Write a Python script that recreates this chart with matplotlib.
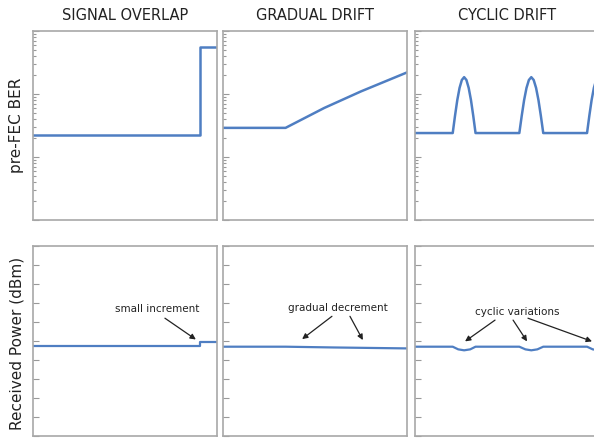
import numpy as np
import matplotlib
matplotlib.use("Agg")
import matplotlib.pyplot as plt
from matplotlib.ticker import LogLocator, NullFormatter, MultipleLocator

titles = ["SIGNAL OVERLAP", "GRADUAL DRIFT", "CYCLIC DRIFT"]
ylabels = ["pre-FEC BER", "Received Power (dBm)"]

# pre-FEC BER traces (x is fraction of the time window)
ber_overlap_x = [0.0, 0.905, 0.905, 1.0]
ber_overlap_y = [2.2e-4, 2.2e-4, 5.6e-3, 5.6e-3]

ber_gradual_x = [0.0, 0.34, 0.55, 0.75, 1.0]
ber_gradual_y = [2.9e-4, 2.9e-4, 6.0e-4, 1.1e-3, 2.2e-3]

ber_cyclic_x = [0.0, 0.205, 0.2174, 0.2298, 0.2422, 0.2546, 0.267, 0.2794,
                0.2918, 0.3042, 0.3166, 0.329,
                0.567, 0.580, 0.593, 0.606, 0.619, 0.632, 0.645,
                0.658, 0.671, 0.684, 0.697,
                0.935, 0.9474, 0.9598, 0.9722, 0.9846, 0.997, 1.0]
ber_cyclic_y = [2.4e-4, 2.4e-4, 4.5e-4, 8.0e-4, 1.25e-3, 1.67e-3, 1.85e-3, 1.67e-3,
                1.25e-3, 8.0e-4, 4.5e-4, 2.4e-4,
                2.4e-4, 4.5e-4, 8.0e-4, 1.25e-3, 1.67e-3, 1.85e-3, 1.67e-3,
                1.25e-3, 8.0e-4, 4.5e-4, 2.4e-4,
                2.4e-4, 4.5e-4, 8.0e-4, 1.25e-3, 1.67e-3, 1.85e-3, 1.84e-3]

# received power traces
pow_overlap_x = [0.0, 0.905, 0.905, 1.0]
pow_overlap_y = [4.74, 4.74, 4.95, 4.95]

pow_gradual_x = [0.0, 0.34, 0.6, 1.0]
pow_gradual_y = [4.70, 4.70, 4.66, 4.61]

pow_cyclic_x = [0.0, 0.205, 0.235, 0.267, 0.30, 0.329,
                0.567, 0.60, 0.632, 0.665, 0.697, 0.935, 0.966, 1.0]
pow_cyclic_y = [4.70, 4.70, 4.56, 4.51, 4.56, 4.70,
                4.70, 4.56, 4.51, 4.56, 4.70, 4.70, 4.56, 4.51]

notes = [
    (0, "small increment", (0.674, 6.75), [((0.717, 6.2), (0.885, 5.08))]),
    (1, "gradual decrement", (0.625, 6.8), [((0.592, 6.3), (0.43, 5.1)),
                                             ((0.69, 6.3), (0.76, 5.05))]),
    (2, "cyclic variations", (0.554, 6.6), [((0.435, 6.1), (0.272, 4.98)),
                                             ((0.533, 6.1), (0.609, 4.98)),
                                             ((0.614, 6.2), (0.962, 4.98))]),
]

line_col = "#4f7ec2"
frame_col = "#a8a8a8"

fig = plt.figure(figsize=(5.94, 4.39), dpi=100)
W, H = 594.0, 439.0
lefts = [33, 223, 415]
pw = 184
top_rows = [(32, 221), (247, 437)]

top_data = [(ber_overlap_x, ber_overlap_y), (ber_gradual_x, ber_gradual_y),
            (ber_cyclic_x, ber_cyclic_y)]
bot_data = [(pow_overlap_x, pow_overlap_y), (pow_gradual_x, pow_gradual_y),
            (pow_cyclic_x, pow_cyclic_y)]

axes = []
for r, (yt, yb) in enumerate(top_rows):
    row = []
    for c, lx in enumerate(lefts):
        ax = fig.add_axes([lx / W, 1 - yb / H, pw / W, (yb - yt) / H])
        for s in ax.spines.values():
            s.set_color(frame_col)
            s.set_linewidth(1.2)
        ax.set_xlim(0, 1)
        ax.set_xticks([])
        ax.tick_params(axis="y", which="both", direction="in", colors="#999999",
                       labelleft=False, width=0.8)
        ax.tick_params(axis="y", which="major", length=4)
        ax.tick_params(axis="y", which="minor", length=2.5)
        if r == 0:
            x, y = top_data[c]
            ax.set_yscale("log")
            ax.set_ylim(1e-5, 1e-2)
            ax.yaxis.set_major_locator(LogLocator(base=10))
            ax.yaxis.set_minor_locator(LogLocator(base=10, subs=np.arange(2, 10)))
            ax.yaxis.set_minor_formatter(NullFormatter())
            lw = 1.8
        else:
            x, y = bot_data[c]
            ax.set_ylim(0, 10)
            ax.yaxis.set_major_locator(MultipleLocator(1))
            lw = 1.6
        ax.plot(x, y, color=line_col, lw=lw, solid_joinstyle="round")
        row.append(ax)
    axes.append(row)

for c, t in enumerate(titles):
    fig.text((lefts[c] + pw / 2) / W, 1 - 15 / H, t, ha="center", va="center",
             fontsize=10.5, color="#222222")

fig.text(17 / W, 1 - 125 / H, ylabels[0], rotation=90, ha="center", va="center",
         fontsize=11, color="#222222")
fig.text(17 / W, 1 - 343 / H, ylabels[1], rotation=90, ha="center", va="center",
         fontsize=11, color="#222222")

for c, txt, pos, arrows in notes:
    ax = axes[1][c]
    ax.text(pos[0], pos[1], txt, ha="center", va="center", fontsize=7.5,
            color="#222222")
    for tail, head in arrows:
        ax.annotate("", xy=head, xytext=tail,
                    arrowprops=dict(arrowstyle="-|>", color="#222222", lw=0.9,
                                    mutation_scale=8, shrinkA=0, shrinkB=0))

fig.savefig("out.png", dpi=100)
